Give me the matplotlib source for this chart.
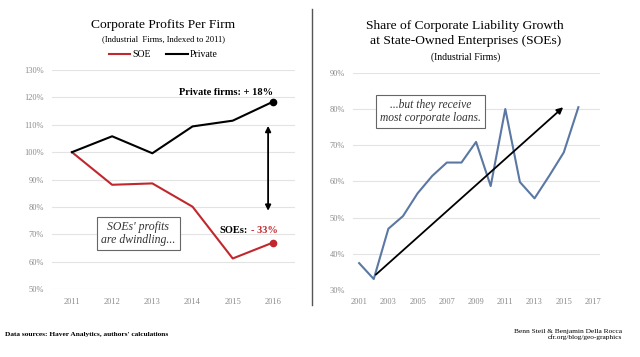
import matplotlib.pyplot as plt

plt.rcParams['font.family'] = ['Liberation Serif', 'DejaVu Serif']

# left chart: profits per firm, indexed to 2011
years_left = [2011, 2012, 2013, 2014, 2015, 2016]
soe_profits = [100, 88.1, 88.6, 80.1, 61.2, 67.0]
private_profits = [100, 105.8, 99.6, 109.4, 111.5, 118.4]
left_yticks = [50, 60, 70, 80, 90, 100, 110, 120, 130]

# right chart: SOE share of corporate liability growth
years_right = list(range(2001, 2017))
soe_liab_share = [37.4, 33.0, 46.9, 50.4, 56.7, 61.5, 65.2, 65.2, 70.9,
                  58.7, 80.0, 59.8, 55.3, 61.5, 68.0, 80.5]
right_xticks = list(range(2001, 2018, 2))
right_yticks = [30, 40, 50, 60, 70, 80, 90]

red = '#c0282d'
blue = '#5a78a3'
grid_col = '#e3e3e3'
tick_col = '#8a8a8a'

fig = plt.figure(figsize=(6.4, 3.57), dpi=100)
fig.patch.set_facecolor('white')


def style_axes(ax):
    for s in ax.spines.values():
        s.set_visible(False)
    ax.grid(axis='y', color=grid_col, lw=0.8)
    ax.set_axisbelow(True)
    ax.tick_params(length=0, labelsize=6, colors=tick_col, pad=6)


# ---- left chart
ax1 = fig.add_axes([0.081, 0.190, 0.380, 0.614])
style_axes(ax1)
ax1.plot(years_left, soe_profits, color=red, lw=1.5, label='SOE')
ax1.plot(years_left, private_profits, color='black', lw=1.5, label='Private')
ax1.plot(years_left[-1], soe_profits[-1], 'o', color=red, ms=4.5)
ax1.plot(years_left[-1], private_profits[-1], 'o', color='black', ms=4.5)
ax1.set_xlim(2010.5, 2016.55)
ax1.set_ylim(50, 130)
ax1.set_xticks(years_left)
ax1.set_yticks(left_yticks)
ax1.set_yticklabels([f'{v}%' for v in left_yticks])

ax1.annotate('', xy=(2015.88, 110.6), xytext=(2015.88, 77.6),
             arrowprops=dict(arrowstyle='<|-|>', color='black', lw=1.3,
                             mutation_scale=8))
ax1.text(2016.0, 121.8, 'Private firms: + 18%', ha='right', va='center',
         fontsize=7.5, fontweight='bold')
ax1.text(2015.38, 71.5, 'SOEs:', ha='right', va='center', fontsize=7.5,
         fontweight='bold')
ax1.text(2015.45, 71.5, '- 33%', ha='left', va='center', fontsize=7.5,
         fontweight='bold', color=red)
ax1.text(2012.65, 70.2, "SOEs' profits\nare dwindling...", ha='center',
         va='center', fontsize=8.5, style='italic', color='#333333',
         linespacing=1.1,
         bbox=dict(boxstyle='square,pad=0.35', fc='white', ec='#666666', lw=0.8))

fig.text(0.255, 0.93, 'Corporate Profits Per Firm', ha='center', va='center',
         fontsize=9.7)
fig.text(0.255, 0.89, '(Industrial  Firms, Indexed to 2011)', ha='center',
         va='center', fontsize=6.2)
fig.legend(handles=ax1.get_lines()[:2], loc='center', bbox_to_anchor=(0.255, 0.846),
           ncol=2, frameon=False, fontsize=7, handlelength=2.2, handletextpad=0.2,
           columnspacing=1.6, borderaxespad=0)

# ---- separator
fig.add_artist(plt.Line2D([0.488, 0.488], [0.145, 0.975], color='#555555',
                          lw=1.0, transform=fig.transFigure))

# ---- right chart
ax2 = fig.add_axes([0.552, 0.188, 0.386, 0.608])
style_axes(ax2)
ax2.plot(years_right, soe_liab_share, color=blue, lw=1.5)
ax2.set_xlim(2000.6, 2017.5)
ax2.set_ylim(30, 90)
ax2.set_xticks(right_xticks)
ax2.set_yticks(right_yticks)
ax2.set_yticklabels([f'{v}%' for v in right_yticks])
ax2.annotate('', xy=(2015.1, 81.0), xytext=(2002.0, 33.7),
             arrowprops=dict(arrowstyle='-|>', color='black', lw=1.3,
                             mutation_scale=9))
ax2.text(2005.9, 79.4, '...but they receive\nmost corporate loans.', ha='center',
         va='center', fontsize=8.3, style='italic', color='#333333',
         linespacing=1.1,
         bbox=dict(boxstyle='square,pad=0.35', fc='white', ec='#666666', lw=0.8))

fig.text(0.727, 0.906, 'Share of Corporate Liability Growth\nat State-Owned Enterprises (SOEs)',
         ha='center', va='center', fontsize=9.7, linespacing=1.25)
fig.text(0.727, 0.84, '(Industrial Firms)', ha='center', va='center', fontsize=7)

# ---- footer
fig.text(0.008, 0.064, "Data sources: Haver Analytics, authors' calculations",
         ha='left', va='center', fontsize=5.3, fontweight='bold')
fig.text(0.972, 0.062, 'Benn Steil & Benjamin Della Rocca\ncfr.org/blog/geo-graphics',
         ha='right', va='center', fontsize=5.3, linespacing=1.1)

plt.savefig('out.png', dpi=100)
